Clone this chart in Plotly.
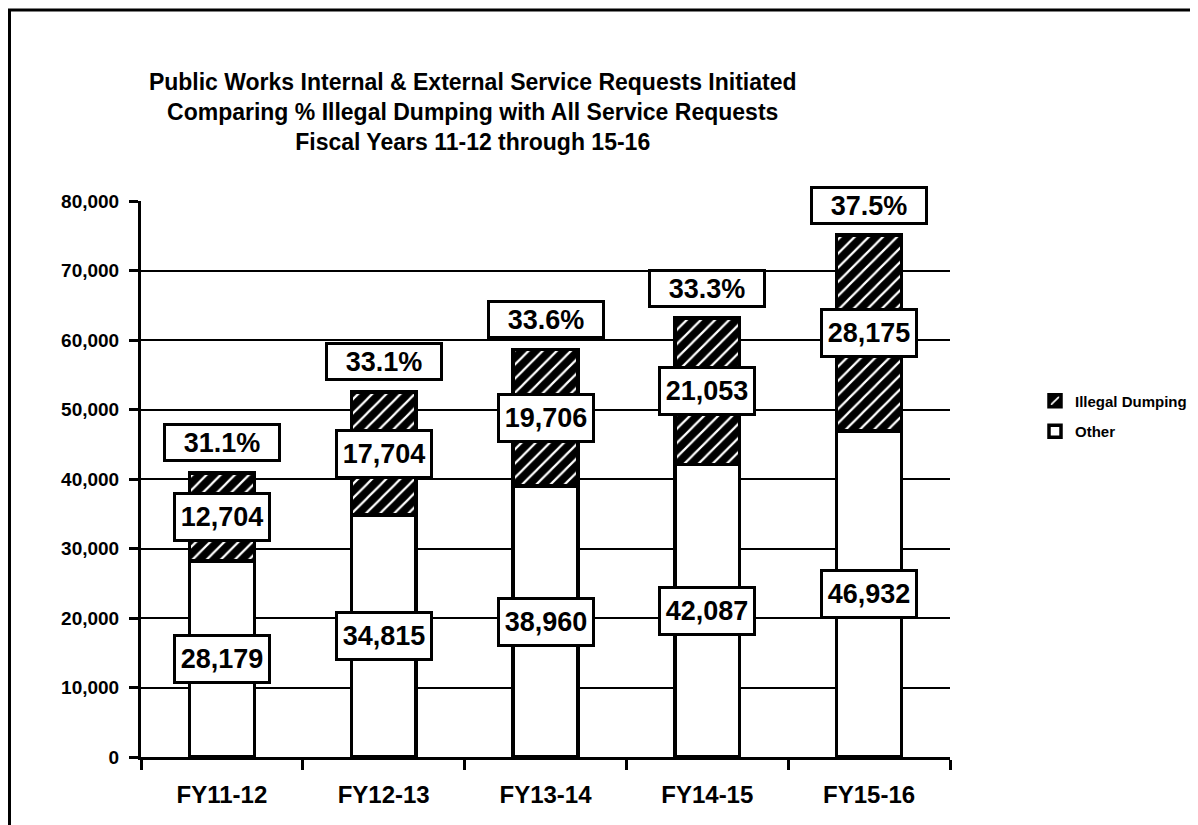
import plotly.graph_objects as go

categories = ["FY11-12", "FY12-13", "FY13-14", "FY14-15", "FY15-16"]
other = [28179, 34815, 38960, 42087, 46932]
illegal = [12704, 17704, 19706, 21053, 28175]
pct_labels = ["31.1%", "33.1%", "33.6%", "33.3%", "37.5%"]
y_ticks = [0, 10000, 20000, 30000, 40000, 50000, 60000, 70000, 80000]

FONT = "Liberation Sans, Arial, sans-serif"

W, H = 1190, 817
ML, MR, MT, MB = 133, 248, 193, 68

fig = go.Figure()
fig.add_trace(go.Bar(
    x=categories, y=other, name="Other", legendgroup="o", legendrank=2,
    marker=dict(color="white", line=dict(color="black", width=3.5)),
))
fig.add_trace(go.Bar(
    x=categories, y=illegal, name="Illegal Dumping", legendgroup="i", legendrank=1,
    marker=dict(color="black", line=dict(color="black", width=3.5),
                pattern=dict(shape="/", fgcolor="white", bgcolor="black",
                             size=10, solidity=0.22, fillmode="replace")),
))

lab_font = dict(family=FONT, size=27, color="black", weight="bold")
annotations = []
for c, o, il, p in zip(categories, other, illegal, pct_labels):
    annotations.append(dict(
        x=c, y=o / 2, text=f"{o:,}", showarrow=False, font=lab_font,
        bgcolor="white", bordercolor="black", borderwidth=3, borderpad=2,
        width=88, height=40))
    annotations.append(dict(
        x=c, y=o + il / 2, text=f"{il:,}", showarrow=False, font=lab_font,
        bgcolor="white", bordercolor="black", borderwidth=3, borderpad=2,
        width=88, height=40))
    annotations.append(dict(
        x=c, y=o + il, yshift=30, text=p, showarrow=False, font=lab_font,
        bgcolor="white", bordercolor="black", borderwidth=3, borderpad=2,
        width=108, height=29))

fig.update_layout(
    width=W, height=H, autosize=False,
    barmode="stack", bargap=0.6,
    paper_bgcolor="white", plot_bgcolor="white",
    margin=dict(l=ML, r=MR, t=MT, b=MB),
    font=dict(family=FONT, color="black"),
    title=dict(
        text="Public Works Internal & External Service Requests Initiated<br>"
             "Comparing % Illegal Dumping with All Service Requests<br>"
             "Fiscal Years 11-12 through 15-16",
        x=0.410, xref="paper", xanchor="center",
        y=1 - 82 / H, yref="container", yanchor="top",
        font=dict(family=FONT, size=23, color="black", weight="bold")),
    legend=dict(
        xref="container", yref="container",
        x=1027 / W, y=1 - 408 / H, xanchor="left", yanchor="middle",
        traceorder="grouped", tracegroupgap=8,
        font=dict(family=FONT, size=15, color="black", weight="bold"),
        bgcolor="rgba(0,0,0,0)", itemwidth=30),
    annotations=annotations,
    shapes=[dict(type="rect", xref="paper", yref="paper",
                 x0=(1.5 - ML) / 809, x1=1.6, y0=-0.5, y1=1 + (MT - 2) / 556,
                 line=dict(color="black", width=3), layer="below")],
)
fig.update_xaxes(
    showline=True, linecolor="black", linewidth=3,
    ticks="outside", tickson="boundaries", ticklen=10, tickwidth=3, tickcolor="black",
    tickfont=dict(family=FONT, size=24, color="black", weight="bold"),
    ticklabelstandoff=14, showgrid=False,
)
fig.update_yaxes(
    range=[0, 80000], tickvals=y_ticks, tickformat=",d",
    showline=True, linecolor="black", linewidth=3,
    ticks="outside", ticklen=9, tickwidth=3, tickcolor="black",
    tickfont=dict(family=FONT, size=19, color="black", weight="bold"),
    ticklabelstandoff=6,
    showgrid=True, gridcolor="black", gridwidth=2, zeroline=False,
)

fig.write_html("out.html")
